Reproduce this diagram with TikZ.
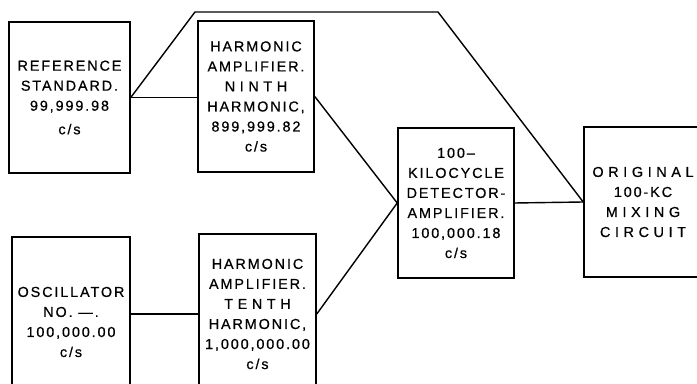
\documentclass[tikz,border=0pt]{standalone}
\usepackage{fontspec}
\setmainfont{Liberation Sans}[LetterSpace=13,FakeBold=0.6]
\newcommand{\wide}[1]{{\addfontfeature{LetterSpace=32}#1}}
\tikzset{
  blk/.style={draw,line width=0.9pt,align=center,font=\fontsize{8.2}{11.4}\selectfont,inner sep=2pt},
  wire/.style={line width=0.8pt},
}
\begin{document}
\begin{tikzpicture}[x=0.02cm,y=-0.02cm]
  \useasboundingbox (0,0) rectangle (697,384);
  \clip (0,0) rectangle (697,384);
  \node[blk,minimum width=2.42cm,minimum height=3.02cm] (refstd) at (69.5,97.5) {REFERENCE\\STANDARD.\\99,999.98\\[2pt]c/s};
  \node[blk,minimum width=2.32cm,minimum height=3.02cm] (ninth) at (256,96.5) {HARMONIC\\AMPLIFIER.\\\wide{NINTH}\\HARMONIC,\\899,999.82\\c/s};
  \node[blk,minimum width=2.36cm,minimum height=3.4cm] (osc) at (71,322) {OSCILLATOR\\NO. —.\\100,000.00\\c/s};
  \node[blk,minimum width=2.34cm,minimum height=3.2cm] (tenth) at (257.5,314) {HARMONIC\\AMPLIFIER.\\\wide{TENTH}\\HARMONIC,\\1,000,000.00\\c/s};
  \node[blk,minimum width=2.32cm,minimum height=3cm] (det) at (456,203) {100–\\KILOCYCLE\\DETECTOR-\\AMPLIFIER.\\100,000.18\\c/s};
  \node[blk,minimum width=2.36cm,minimum height=3cm] (mix) at (643,202) {\wide{ORIGINAL}\\100-KC\\\wide{MIXING}\\\wide{CIRCUIT}};
  % bypass line over the top
  \coordinate (tl) at (195,12);
  \coordinate (tr) at (438,12);
  \draw[wire] (refstd.east) -- (tl) -- (tr) -- (mix.west);
  \draw[wire] (refstd.east) -- (ninth.west |- refstd.east);
  \draw[wire] (ninth.east) -- (det.west);
  \draw[wire] (tenth.west -| osc.east) -- (tenth.west);
  \draw[wire] (tenth.east) -- (det.west);
  \draw[wire] (det.east) -- (mix.west);
\end{tikzpicture}
\end{document}
